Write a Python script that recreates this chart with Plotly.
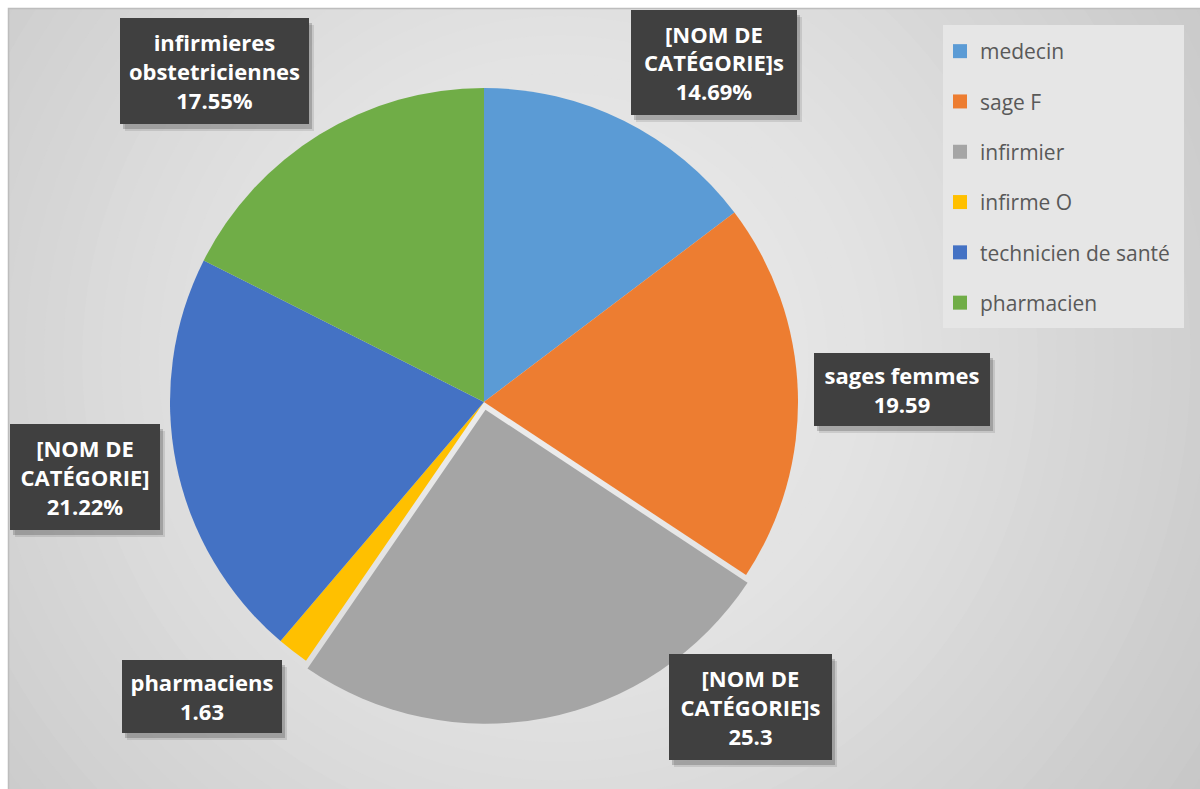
import plotly.graph_objects as go

# ---------------- data ----------------
categories = ["medecin", "sage F", "infirmier", "infirme O", "technicien de santé", "pharmacien"]
values = [14.69, 19.59, 25.3, 1.63, 21.22, 17.55]
label_names = ["[NOM DE<br>CATÉGORIE]s", "sages femmes", "[NOM DE<br>CATÉGORIE]s",
               "pharmaciens", "[NOM DE<br>CATÉGORIE]", "infirmieres<br>obstetriciennes"]
label_pct = [True, False, False, False, True, True]
colors = ["#5B9BD5", "#ED7D31", "#A5A5A5", "#FFC000", "#4472C4", "#70AD47"]
pulls = [0, 0, 0.025, 0, 0, 0]

# label box geometry in pixels (x0, x1, y0, y1)
boxes = [(631, 797, 10, 115), (814, 990, 353, 426), (669, 832, 654, 760),
         (122, 282, 660, 733), (10, 160, 424, 530), (120, 309, 18, 124)]

W, H = 1200, 789
def fx(x): return x / W
def fy(y): return 1 - y / H

# pie geometry
cx, cy, r = 484, 402, 314
half = r * (1 + max(pulls))

fig = go.Figure()
fig.add_trace(go.Pie(
    labels=categories, values=values, sort=False, direction="clockwise", rotation=0,
    marker=dict(colors=colors, line=dict(width=0)), pull=pulls,
    textinfo="none", hoverinfo="label+value", showlegend=False,
    domain=dict(x=[fx(cx - half), fx(cx + half)], y=[fy(cy + half), fy(cy - half)]),
))

# legend via placeholder traces
for cat, col in zip(categories, colors):
    fig.add_trace(go.Scatter(x=[None], y=[None], mode="markers", name=cat, legendgroup=cat,
                             marker=dict(symbol="square", size=14, color=col)))

shapes = []
# radial background gradient
gc_x, gc_y = 560, 360
light, dark = 238, 198
N = 45
rmax = 860
for i in range(N):
    rr = rmax * (1 - i / N)
    t = rr / 800
    v = int(round(light - (light - dark) * min(t, 1.0) ** 1.3))
    c = f"rgb({v},{v},{v})"
    shapes.append(dict(type="circle", xref="paper", yref="paper", layer="below",
                       x0=fx(gc_x - rr), x1=fx(gc_x + rr), y0=fy(gc_y + rr), y1=fy(gc_y - rr),
                       fillcolor=c, line=dict(width=0)))
# white outer strips and frame
shapes.append(dict(type="rect", xref="paper", yref="paper", layer="below",
                   x0=fx(-10), x1=fx(W + 10), y0=fy(8), y1=fy(-10), fillcolor="white", line=dict(width=0)))
shapes.append(dict(type="rect", xref="paper", yref="paper", layer="below",
                   x0=fx(-10), x1=fx(8), y0=fy(H + 10), y1=fy(-10), fillcolor="white", line=dict(width=0)))
shapes.append(dict(type="rect", xref="paper", yref="paper", layer="below",
                   x0=fx(8.5), x1=fx(W + 5), y0=fy(H + 5), y1=fy(8.5), fillcolor="rgba(0,0,0,0)",
                   line=dict(width=1.5, color="#BDBDBD")))
# legend background
shapes.append(dict(type="rect", xref="paper", yref="paper", layer="below",
                   x0=fx(943), x1=fx(1184), y0=fy(328), y1=fy(25), fillcolor="#E6E6E6", line=dict(width=0)))

annotations = []
for name, v, pct, (x0, x1, y0, y1) in zip(label_names, values, label_pct, boxes):
    # shadow
    for dx, dy, a in [(5, 7, 0.10), (3, 5, 0.18)]:
        shapes.append(dict(type="rect", xref="paper", yref="paper", layer="above",
                           x0=fx(x0 + dx), x1=fx(x1 + dx), y0=fy(y1 + dy), y1=fy(y0 + dy),
                           fillcolor=f"rgba(0,0,0,{a})", line=dict(width=0)))
    txt = f"<b>{name}<br>{v}{'%' if pct else ''}</b>"
    annotations.append(dict(
        text=txt, xref="paper", yref="paper", x=fx((x0 + x1) / 2), y=fy((y0 + y1) / 2),
        xanchor="center", yanchor="middle", showarrow=False,
        width=x1 - x0, height=y1 - y0, bgcolor="#404040", borderpad=0, borderwidth=0,
        font=dict(family="Open Sans", size=22, color="white"), align="center", valign="middle",
    ))

fig.update_layout(
    width=W, height=H, margin=dict(l=0, r=0, t=0, b=0),
    paper_bgcolor="white", plot_bgcolor="rgba(0,0,0,0)",
    xaxis=dict(visible=False), yaxis=dict(visible=False),
    shapes=shapes, annotations=annotations,
    legend=dict(x=fx(940), y=fy(31), xanchor="left", yanchor="top",
                bgcolor="rgba(0,0,0,0)", tracegroupgap=20,
                font=dict(family="Open Sans", size=21, color="#595959")),
)

fig.write_html("out.html")
